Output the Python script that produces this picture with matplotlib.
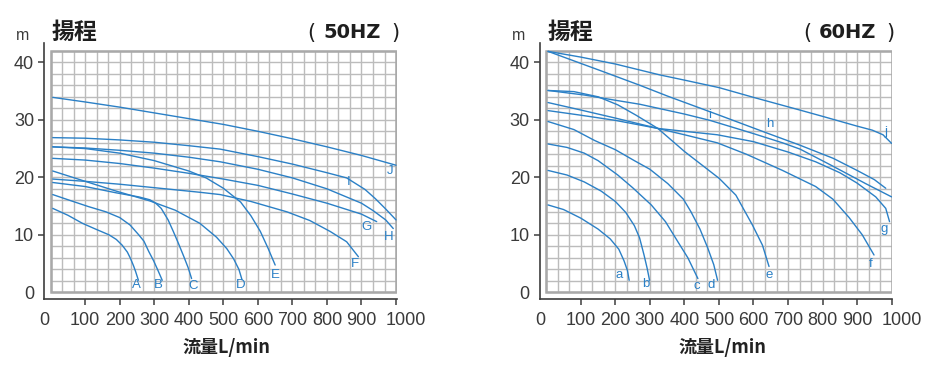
import numpy as np
import matplotlib
matplotlib.use("Agg")
import matplotlib.pyplot as plt
from matplotlib.patches import Rectangle
from matplotlib.transforms import ScaledTranslation

# ---- 50HZ curves (flow L/min, head m) ----
A_q = [6, 50, 92, 130, 169, 190, 207, 222, 231, 240, 246, 254]
A_h = [14.6, 13.4, 12.0, 11.0, 10.0, 9.2, 8.2, 7.0, 5.9, 4.6, 3.6, 2.1]
B_q = [6, 60, 110, 160, 200, 230, 255, 270, 284, 298, 310, 323]
B_h = [17.0, 15.9, 14.9, 14.0, 13.0, 11.7, 10.0, 8.9, 7.1, 5.5, 3.9, 2.1]
C_q = [6, 100, 190, 255, 287, 304, 320, 340, 355, 370, 385, 398, 408]
C_h = [19.1, 18.4, 17.3, 16.6, 16.1, 15.5, 14.6, 12.6, 10.6, 8.5, 6.3, 4.3, 2.4]
D_q = [6, 100, 190, 287, 360, 432, 480, 510, 530, 545, 554]
D_h = [21.1, 19.3, 17.6, 15.9, 14.3, 12.0, 9.6, 7.6, 5.8, 4.0, 2.2]
E_q = [6, 100, 200, 300, 400, 450, 500, 550, 580, 607, 630, 650]
E_h = [25.3, 25.0, 24.2, 22.9, 21.1, 19.9, 18.1, 15.7, 13.3, 10.6, 7.6, 4.75]
F_q = [6, 100, 200, 300, 432, 491, 580, 684, 750, 809, 857, 891]
F_h = [19.7, 19.3, 18.8, 18.2, 17.4, 17.0, 15.8, 14.0, 12.5, 10.6, 8.8, 6.2]
G_q = [6, 100, 200, 300, 400, 500, 600, 700, 800, 900, 944]
G_h = [23.3, 23.0, 22.4, 21.6, 20.7, 19.7, 18.6, 17.1, 15.5, 13.6, 12.3]
H_q = [6, 100, 200, 300, 400, 491, 600, 700, 800, 900, 934, 970, 992]
H_h = [25.3, 25.1, 24.7, 24.2, 23.5, 22.7, 21.4, 19.9, 18.0, 15.5, 14.2, 12.6, 11.1]
I_q = [6, 100, 200, 300, 400, 491, 600, 700, 800, 857, 910, 940, 970, 1000]
I_h = [26.9, 26.8, 26.5, 26.1, 25.5, 24.9, 23.6, 22.3, 20.8, 19.9, 17.9, 16.3, 14.5, 12.6]
J_q = [6, 100, 200, 300, 400, 500, 600, 700, 800, 900, 1000]
J_h = [33.9, 33.1, 32.2, 31.2, 30.2, 29.2, 28.0, 26.7, 25.3, 23.8, 22.1]

# ---- 60HZ curves ----
a_q = [5, 50, 100, 150, 185, 210, 225, 235, 240]
a_h = [15.2, 14.4, 12.9, 11.0, 9.3, 7.5, 5.5, 3.8, 2.1]
b_q = [5, 60, 110, 159, 200, 230, 255, 270, 283, 292, 299]
b_h = [21.2, 20.4, 19.2, 17.6, 15.8, 13.9, 11.6, 9.5, 6.5, 4.2, 2.1]
c_q = [5, 60, 110, 150, 207, 250, 304, 345, 381, 410, 439]
c_h = [25.8, 25.2, 24.2, 22.9, 20.4, 18.2, 15.2, 12.3, 8.8, 6.0, 2.4]
d_q = [5, 80, 140, 200, 255, 300, 352, 397, 419, 445, 467, 485, 496]
d_h = [29.7, 28.3, 26.4, 24.8, 22.9, 21.4, 18.9, 16.2, 14.0, 11.0, 7.8, 4.8, 2.1]
e_q = [5, 80, 150, 207, 260, 323, 400, 501, 549, 597, 626, 645]
e_h = [35.1, 34.9, 34.0, 32.6, 30.8, 28.5, 24.5, 19.8, 16.9, 11.7, 8.2, 4.5]
f_q = [5, 100, 200, 323, 400, 495, 580, 684, 780, 830, 877, 915, 949]
f_h = [33.0, 31.7, 30.3, 28.5, 27.4, 26.0, 24.0, 21.2, 18.4, 16.2, 13.0, 10.0, 6.5]
g_q = [5, 100, 200, 323, 400, 495, 600, 700, 780, 850, 900, 954, 983, 994]
g_h = [31.6, 30.8, 29.9, 28.5, 28.0, 27.4, 26.2, 24.4, 22.7, 20.8, 19.0, 16.6, 14.6, 12.3]
h_q = [5, 159, 271, 352, 501, 639, 734, 831, 900, 950, 983]
h_h = [41.9, 38.5, 36.0, 34.1, 30.8, 27.7, 25.6, 23.3, 21.2, 19.6, 18.1]
i_q = [5, 111, 200, 271, 400, 474, 600, 684, 735, 828, 925, 1000]
i_h = [35.1, 34.3, 33.4, 32.7, 31.0, 29.9, 27.6, 26.0, 24.9, 22.0, 18.9, 16.6]
j_q = [5, 100, 200, 329, 400, 500, 600, 734, 800, 900, 944, 975, 1000]
j_h = [41.9, 40.9, 39.7, 37.8, 36.9, 35.6, 33.9, 31.7, 30.6, 28.9, 28.2, 27.4, 25.9]

x_ticks = [100, 200, 300, 400, 500, 600, 700, 800, 900, 1000]
y_ticks = [0, 10, 20, 30, 40]

curves50 = [("A", A_q, A_h), ("B", B_q, B_h), ("C", C_q, C_h), ("D", D_q, D_h),
            ("E", E_q, E_h), ("F", F_q, F_h), ("G", G_q, G_h), ("H", H_q, H_h),
            ("I", I_q, I_h), ("J", J_q, J_h)]
curves60 = [("a", a_q, a_h), ("b", b_q, b_h), ("c", c_q, c_h), ("d", d_q, d_h),
            ("e", e_q, e_h), ("f", f_q, f_h), ("g", g_q, g_h), ("h", h_q, h_h),
            ("i", i_q, i_h), ("j", j_q, j_h)]

# label placement: point index on the curve, offset in points
labels50 = {"A": (-1, -1.5, -3.7), "B": (-1, -2.5, -3.7), "C": (-1, 0.9, -5.0),
            "D": (-1, -1.2, -4.1), "E": (-1, 0, -7.2), "F": (-1, -2.5, -5.0),
            "G": (-1, -7.2, -3.7), "H": (-1, -3.5, -5.8), "I": (9, 1.2, -2.9),
            "J": (-1, -4.2, -4.1)}
labels60 = {"a": (-1, -7.0, 3.7), "b": (-1, -3.0, -2.9), "c": (-1, -0.6, -5.0),
            "d": (-1, -4.7, -3.7), "e": (-1, 0, -6.2), "f": (-1, -2.5, -6.2),
            "g": (-1, -4.0, -5.4), "h": (5, 2.2, 6.2), "i": (5, -0.5, 3.7),
            "j": (-1, -4.2, 7.9)}

plt.rcParams["font.family"] = ["Liberation Sans", "Noto Sans CJK JP", "DejaVu Sans"]

W, H = 930, 371
BLUE = "#2b80c6"
DARK = "#3a3a3a"
X0, X1, Y0, Y1 = -18.5, 1002, -1.1, 43.3

fig = plt.figure(figsize=(W / 100, H / 100), dpi=100)


def panel(grid_left, curves, labels, hz):
    spine_left = grid_left - 18.5 * 0.3453
    ax = fig.add_axes([spine_left / W, (H - 298.7) / H, 352.4 / W, 255.4 / H])
    ax.set_xlim(X0, X1)
    ax.set_ylim(Y0, Y1)

    # grid box
    ax.vlines(np.linspace(0, 1000, 31), 0, 42, color="#bcbcbc", lw=1.0, zorder=1)
    ax.hlines(np.arange(0, 43, 2), 0, 1000, color="#bcbcbc", lw=1.0, zorder=1)
    ax.add_patch(Rectangle((0, 0), 1000, 42, fill=False, ec="#a9a9a9", lw=1.8, zorder=2))

    for name, q, h in curves:
        ax.plot(q, h, color=BLUE, lw=1.0, zorder=3, solid_capstyle="round",
                solid_joinstyle="round")
        k, dx, dy = labels[name]
        ax.annotate(name, (q[k], h[k]), xytext=(dx, dy), textcoords="offset points",
                    ha="center", va="center", fontsize=9.5, color=BLUE, zorder=4)

    for s in ["top", "right"]:
        ax.spines[s].set_visible(False)
    for s in ["left", "bottom"]:
        ax.spines[s].set_color("#3d3d3d")
        ax.spines[s].set_linewidth(1.2)

    ax.set_xticks([X0] + x_ticks)
    ax.set_xticklabels(["0"] + [str(v) for v in x_ticks])
    ax.set_yticks(y_ticks)
    ax.set_yticklabels([str(v) for v in y_ticks])
    ax.tick_params(axis="both", color="#3d3d3d", labelcolor=DARK, length=4.3,
                   width=1.1, labelsize=13)
    ax.tick_params(axis="x", pad=5)
    ax.tick_params(axis="y", pad=3)
    ax.xaxis.get_major_ticks()[0].tick1line.set_visible(False)
    ax.yaxis.get_major_ticks()[0].tick1line.set_visible(False)
    # the "1000" label sits a little right of its tick in the original
    last = ax.get_xticklabels()[-1]
    last.set_transform(last.get_transform() + ScaledTranslation(7 / 72, 0, fig.dpi_scale_trans))

    ax.text(0.517, -0.193, "流量L/min", transform=ax.transAxes, ha="center", va="center",
            fontsize=13, fontweight="bold", color="#222222",
            family=["Noto Sans CJK JP", "DejaVu Sans"])

    # headings above the grid
    ty = 1 - 32.5 / H
    fig.text((grid_left + 1) / W, ty, "揚程", ha="left", va="center", fontsize=16.5,
             fontweight="bold", color="#1e1e1e", family=["Noto Sans CJK JP"])
    fig.text((grid_left + 260.8) / W, ty, "(", ha="center", va="center", fontsize=15,
             color="#1e1e1e", family=["DejaVu Sans"])
    fig.text((grid_left + 301.5) / W, ty, hz, ha="center", va="center", fontsize=14,
             fontweight="bold", color="#1e1e1e", family=["DejaVu Sans"])
    fig.text((grid_left + 344.3) / W, ty, ")", ha="center", va="center", fontsize=15,
             color="#1e1e1e", family=["DejaVu Sans"])
    fig.text((spine_left - 21.5) / W, 1 - 35 / H, "m", ha="center", va="center",
             fontsize=11.5, color=DARK)
    return ax


panel(50.7, curves50, labels50, "50HZ")
panel(546.3, curves60, labels60, "60HZ")

fig.savefig("out.png", dpi=100, facecolor="white")
